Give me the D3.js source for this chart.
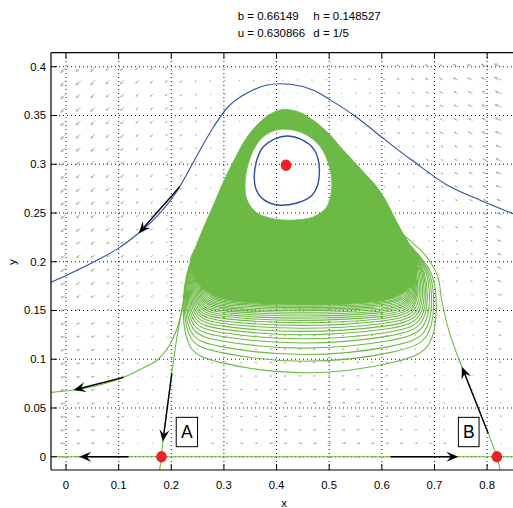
<!DOCTYPE html>
<html><head><meta charset="utf-8">
<script src="https://cdn.jsdelivr.net/npm/d3@7"></script>
<style>body{margin:0;background:#fff}svg{display:block}text{font-family:"Liberation Sans",Arial,Helvetica,sans-serif}</style>
</head><body><svg id="c" width="513" height="508"></svg>
<script>
// ---------------- data ----------------
const xTicks = [0, 0.1, 0.2, 0.3, 0.4, 0.5, 0.6, 0.7, 0.8];
const xTickLabels = ["0", "0.1", "0.2", "0.3", "0.4", "0.5", "0.6", "0.7", "0.8"];
const yTicks = [0, 0.05, 0.1, 0.15, 0.2, 0.25, 0.3, 0.35, 0.4];
const yTickLabels = ["0", "0.05", "0.1", "0.15", "0.2", "0.25", "0.3", "0.35", "0.4"];
const titleLine1 = ["b = 0.66149", "h = 0.148527"];
const titleLine2 = ["u = 0.630866", "d = 1/5"];
const xLabel = "x", yLabel = "y";

// quiver sample grid
const quiverX = [0, 0.0276, 0.0552, 0.0828, 0.1103, 0.1379, 0.1655, 0.1931, 0.2207, 0.2483, 0.2759, 0.3034, 0.331, 0.3586, 0.3862, 0.4138, 0.4414, 0.469, 0.4966, 0.5241, 0.5517, 0.5793, 0.6069, 0.6345, 0.6621, 0.6897, 0.7172, 0.7448, 0.7724, 0.8, 0.8276];
const quiverY = [0, 0.0138, 0.0276, 0.0414, 0.0552, 0.069, 0.0828, 0.0966, 0.1103, 0.1241, 0.1379, 0.1517, 0.1655, 0.1793, 0.1931, 0.2069, 0.2207, 0.2345, 0.2483, 0.2621, 0.2759, 0.2897, 0.3034, 0.3172, 0.331, 0.3448, 0.3586, 0.3724, 0.3862, 0.4];
// direction field read on a coarse grid (x step 0.05, y step 0.05), rows bottom->top
const fieldX = [0, 0.05, 0.1, 0.15, 0.2, 0.25, 0.3, 0.35, 0.4, 0.45, 0.5, 0.55, 0.6, 0.65, 0.7, 0.75, 0.8, 0.85];
const fieldY = [0, 0.05, 0.1, 0.15, 0.2, 0.25, 0.3, 0.35, 0.4];
const fieldU = [
 [-14.9,-10.1,-5.9,-2.1,1.2,3.9,6.2,7.9,9.2,9.9,10.2,9.9,9.2,7.9,6.2,3.9,1.2,-2.1],
 [-14.9,-10.4,-6.4,-2.9,0.2,2.8,4.9,6.5,7.6,8.2,8.4,8.0,7.2,5.9,4.0,1.7,-1.1,-4.4],
 [-14.9,-10.7,-6.9,-3.6,-0.8,1.7,3.6,5.1,6.1,6.6,6.6,6.2,5.2,3.8,1.9,-0.5,-3.3,-6.7],
 [-14.9,-11.0,-7.5,-4.4,-1.7,0.5,2.3,3.6,4.5,4.9,4.9,4.3,3.3,1.8,-0.2,-2.6,-5.6,-9.0],
 [-14.9,-11.3,-8.0,-5.1,-2.7,-0.6,1.0,2.2,3.0,3.3,3.1,2.5,1.3,-0.2,-2.3,-4.8,-7.8,-11.3],
 [-14.9,-11.5,-8.6,-5.9,-3.6,-1.7,-0.3,0.8,1.4,1.6,1.3,0.6,-0.6,-2.3,-4.4,-7.0,-10.1,-13.6],
 [-14.9,-11.8,-9.1,-6.7,-4.6,-2.9,-1.5,-0.6,-0.1,-0.1,-0.5,-1.3,-2.6,-4.3,-6.5,-9.2,-12.3,-16.0],
 [-14.9,-12.1,-9.6,-7.4,-5.5,-4.0,-2.8,-2.0,-1.7,-1.7,-2.2,-3.1,-4.5,-6.3,-8.6,-11.4,-14.6,-18.3],
 [-14.9,-12.4,-10.2,-8.2,-6.5,-5.1,-4.1,-3.5,-3.2,-3.4,-4.0,-5.0,-6.5,-8.4,-10.7,-13.6,-16.8,-20.6]
];
const fieldV = [
 [0,0,0,0,0,0,0,0,0,0,0,0,0,0,0,0,0,0],
 [-1.9,-1.6,-1.3,-1.0,-0.8,-0.6,-0.4,-0.2,0,0.1,0.2,0.3,0.4,0.5,0.6,0.7,0.8,0.9],
 [-3.9,-3.2,-2.6,-2.0,-1.5,-1.1,-0.7,-0.4,-0.1,0.2,0.4,0.7,0.9,1.1,1.3,1.4,1.6,1.8],
 [-5.8,-4.7,-3.8,-3.0,-2.3,-1.7,-1.1,-0.6,-0.1,0.3,0.7,1.0,1.3,1.6,1.9,2.2,2.4,2.6],
 [-7.7,-6.3,-5.1,-4.0,-3.1,-2.2,-1.5,-0.8,-0.2,0.4,0.9,1.4,1.8,2.2,2.6,2.9,3.2,3.5],
 [-9.7,-7.9,-6.4,-5.0,-3.9,-2.8,-1.9,-1.0,-0.2,0.5,1.1,1.7,2.2,2.7,3.2,3.6,4.0,4.4],
 [-11.6,-9.5,-7.7,-6.1,-4.6,-3.4,-2.2,-1.2,-0.3,0.6,1.3,2.0,2.7,3.3,3.8,4.3,4.8,5.3],
 [-13.5,-11.1,-8.9,-7.1,-5.4,-3.9,-2.6,-1.4,-0.3,0.6,1.5,2.4,3.1,3.8,4.5,5.1,5.6,6.2],
 [-15.5,-12.7,-10.2,-8.1,-6.2,-4.5,-3.0,-1.6,-0.4,0.7,1.8,2.7,3.6,4.4,5.1,5.8,6.4,7.0]
];

const equilibria = [[0.1814, 0], [0.8186, 0], [0.418, 0.299]];

const outerOrbit = [[-0.0285,0.179],[0,0.186],[0.05,0.199],[0.1,0.214],[0.137,0.229],[0.17,0.245],[0.2,0.264],[0.217,0.278],[0.25,0.31],[0.28,0.338],[0.31,0.36],[0.344,0.373],[0.38,0.381],[0.426,0.382],[0.47,0.376],[0.502,0.366],[0.55,0.349],[0.597,0.329],[0.63,0.315],[0.66,0.303],[0.723,0.279],[0.787,0.263],[0.86,0.247]];
const innerOrbit = [[0.42,0.329],[0.467,0.318],[0.4815,0.294],[0.467,0.268],[0.407,0.258],[0.369,0.267],[0.3575,0.287],[0.375,0.318]];

const greenOuter = [[0.236,0.2],[0.247,0.216],[0.262,0.236],[0.28,0.258],[0.3,0.283],[0.322,0.307],[0.344,0.328],[0.37,0.344],[0.39,0.352],[0.41,0.356],[0.44,0.354],[0.47,0.345],[0.5,0.331],[0.521,0.318],[0.56,0.295],[0.597,0.272],[0.63,0.239],[0.666,0.2],[0.66,0.178],[0.62,0.163],[0.53,0.157],[0.45,0.156],[0.36,0.158],[0.295,0.163],[0.255,0.175]];
const greenHole = [[0.41,0.336],[0.45,0.332],[0.483,0.318],[0.5,0.298],[0.505,0.277],[0.4955,0.2564],[0.47,0.246],[0.44,0.243],[0.407,0.243],[0.38,0.246],[0.363,0.25],[0.345,0.262],[0.34,0.278],[0.346,0.3],[0.363,0.321],[0.385,0.332]];

const loopLeftX = [0.221,0.223,0.225,0.227,0.229,0.231,0.233,0.235,0.237,0.239,0.241,0.243,0.245,0.247,0.249,0.251,0.253,0.255,0.257,0.259,0.261,0.263,0.265,0.267];
const loopRightX = [0.704,0.699,0.695,0.691,0.687,0.684,0.681,0.678,0.675,0.672,0.669,0.667,0.665,0.663,0.661,0.659,0.657,0.655,0.653,0.651,0.649,0.647,0.645,0.643];
const loopBottomY = [0.0855,0.0974,0.1043,0.111,0.1163,0.1207,0.1248,0.1283,0.1315,0.1345,0.1372,0.1397,0.142,0.1442,0.1462,0.148,0.1497,0.1513,0.1528,0.1542,0.1555,0.1567,0.1578,0.1588];

const sepLeft = [[-0.0285,0.066],[0.0144,0.0684],[0.06,0.073],[0.109,0.0814],[0.15,0.092],[0.173,0.099],[0.195,0.113],[0.21,0.13],[0.222,0.155],[0.23,0.18],[0.238,0.2],[0.26,0.22]];
const sepA = [[0.1777,-0.0136],[0.1814,0],[0.184,0.0154],[0.192,0.05],[0.201,0.0855],[0.21,0.12],[0.22,0.15],[0.228,0.175],[0.237,0.2],[0.26,0.22]];
const sepB = [[0.825,-0.0136],[0.8186,0],[0.802,0.024],[0.778,0.057],[0.752,0.092],[0.728,0.128],[0.714,0.16],[0.706,0.185],[0.685,0.205],[0.64,0.228]];
const axisLine = [[-0.0285,0],[0.86,0]];

const bigArrows = [
  [[0.216,0.277],[0.138,0.229]],
  [[0.109,0.0814],[0.0144,0.0684]],
  [[0.201,0.0855],[0.184,0.0154]],
  [[0.119,0],[0.025,0]],
  [[0.616,0],[0.7454,0]],
  [[0.802,0.024],[0.752,0.0923]]
];
const boxLabels = [
  {text:"A", x0:0.2094, x1:0.2499, y0:0.0103, y1:0.0404},
  {text:"B", x0:0.7454, x1:0.7847, y0:0.0103, y1:0.0404}
];

// ---------------- drawing ----------------
const svg = d3.select("#c");
const x = d3.scaleLinear().domain([-0.0285, 0.86]).range([51, 518.7]);
const y = d3.scaleLinear().domain([-0.0136, 0.4144]).range([470, 52.7]);
const X0 = x.range()[0], X1 = x.range()[1], Y0 = y.range()[0], Y1 = y.range()[1];
const GREEN = "#6cba45", BLUE = "#2c4fa3", RED = "#ec2227";

svg.append("defs").append("clipPath").attr("id","clip")
  .append("rect").attr("x",X0).attr("y",Y1).attr("width",X1-X0).attr("height",Y0-Y1);
const plot = svg.append("g").attr("clip-path","url(#clip)");

// grid
plot.selectAll(".gx").data(xTicks).enter().append("line")
  .attr("x1",d=>x(d)).attr("x2",d=>x(d)).attr("y1",Y0).attr("y2",Y1)
  .attr("stroke","#000").attr("stroke-width",0.9).attr("stroke-dasharray","1 3");
plot.selectAll(".gy").data(yTicks).enter().append("line")
  .attr("y1",d=>y(d)).attr("y2",d=>y(d)).attr("x1",X0).attr("x2",X1)
  .attr("stroke","#000").attr("stroke-width",0.9).attr("stroke-dasharray","1 3");

// quiver
const pxX = x(1)-x(0), pxY = y(0)-y(1);
const vAspect = 0.6;
const qdata = [];
quiverY.forEach(qy => quiverX.forEach(qx => {
  const i = Math.max(0, Math.min(fieldX.length-1, Math.round(qx/0.05)));
  const j = Math.max(0, Math.min(fieldY.length-1, Math.round(qy/0.05)));
  const dx = fieldU[j][i]*pxX, dy = -fieldV[j][i]*pxY*vAspect;
  qdata.push({qx, qy, dx, dy});
}));
const maxMag = d3.max(qdata, d=>Math.hypot(d.dx,d.dy));
const qs = 8/maxMag;
plot.append("g").selectAll("path").data(qdata).enter().append("path")
  .attr("d", d => {
    const sx = x(d.qx), sy = y(d.qy);
    const ux = d.dx*qs, uy = d.dy*qs;
    const tx = sx+ux, ty = sy+uy;
    const a = 0.42, b = 0.38;
    const h1x = tx - a*(ux - b*uy), h1y = ty - a*(uy + b*ux);
    const h2x = tx - a*(ux + b*uy), h2y = ty - a*(uy - b*ux);
    return `M${sx},${sy}L${tx},${ty}M${h1x},${h1y}L${tx},${ty}L${h2x},${h2y}`;
  })
  .attr("fill","none").attr("stroke","#a8a8a8").attr("stroke-width",0.8);

// green region (with hole)
const lineC = d3.line().x(d=>x(d[0])).y(d=>y(d[1])).curve(d3.curveCatmullRomClosed.alpha(0.5));
plot.append("path").attr("d", lineC(greenOuter) + lineC(greenHole))
  .attr("fill",GREEN).attr("fill-rule","evenodd").attr("stroke",GREEN).attr("stroke-width",0.8);

// green loops (basis spline through read control points)
const lineB = d3.line().x(d=>x(d[0])).y(d=>y(d[1])).curve(d3.curveBasis);
const lineO = d3.line().x(d=>x(d[0])).y(d=>y(d[1])).curve(d3.curveCatmullRom.alpha(0.5));
loopBottomY.forEach((yb,k) => {
  const xl = loopLeftX[k], xr = loopRightX[k], xm = (xl+xr)/2 - 0.01;
  const s = Math.max(0.15, (0.162-yb)/0.0765);
  const wy = yb + (0.19-yb)*0.6;
  const pts = [[xl+0.045,0.225],[xl+0.008,0.198],[xl-0.002,wy],[xl+0.01,yb+0.02*s+0.003],[xl+0.05,yb+0.012*s],[xm,yb-0.005*s],[xr-0.055,yb+0.012*s],[xr-0.008,yb+0.024*s+0.003],[xr+0.002,wy],[xr-0.004,0.19],[0.664,0.21],[0.625,0.235]];
  plot.append("path").attr("d",lineB(pts)).attr("fill","none").attr("stroke",GREEN).attr("stroke-width",1.1);
});
[sepLeft, sepA, sepB, axisLine].forEach(s => {
  plot.append("path").attr("d",lineO(s)).attr("fill","none").attr("stroke",GREEN).attr("stroke-width",1.1);
});

// blue orbits
plot.append("path").attr("d",lineO(outerOrbit)).attr("fill","none").attr("stroke",BLUE).attr("stroke-width",1.1);
plot.append("path").attr("d",lineC(innerOrbit)).attr("fill","none").attr("stroke",BLUE).attr("stroke-width",1.4);

// black arrows
bigArrows.forEach(([p0,p1]) => {
  const sx = x(p0[0]), sy = y(p0[1]), tx = x(p1[0]), ty = y(p1[1]);
  const L = Math.hypot(tx-sx, ty-sy), ux = (tx-sx)/L, uy = (ty-sy)/L, nx = -uy, ny = ux;
  const hl = 12, hw = 5, nb = 7.5;
  plot.append("line").attr("x1",sx).attr("y1",sy).attr("x2",tx-ux*nb).attr("y2",ty-uy*nb)
    .attr("stroke","#000").attr("stroke-width",1.4);
  plot.append("path").attr("d",`M${tx},${ty}L${tx-ux*hl+nx*hw},${ty-uy*hl+ny*hw}L${tx-ux*nb},${ty-uy*nb}L${tx-ux*hl-nx*hw},${ty-uy*hl-ny*hw}Z`)
    .attr("fill","#000");
});

// equilibria
plot.selectAll(".eq").data(equilibria).enter().append("ellipse")
  .attr("cx",d=>x(d[0])).attr("cy",d=>y(d[1])).attr("rx",5.3).attr("ry",5.8).attr("fill",RED);

// labelled boxes
boxLabels.forEach(b => {
  plot.append("rect").attr("x",x(b.x0)).attr("y",y(b.y1)).attr("width",x(b.x1)-x(b.x0)).attr("height",y(b.y0)-y(b.y1))
    .attr("fill","#fff").attr("stroke","#000").attr("stroke-width",1);
  plot.append("text").attr("x",(x(b.x0)+x(b.x1))/2).attr("y",(y(b.y0)+y(b.y1))/2+6.3)
    .attr("text-anchor","middle").attr("font-size",17.5).text(b.text);
});

// axes frame
svg.append("line").attr("x1",X0).attr("x2",X1).attr("y1",Y0).attr("y2",Y0).attr("stroke","#000").attr("stroke-width",1.2);
svg.append("line").attr("x1",X0).attr("x2",X1).attr("y1",Y1).attr("y2",Y1).attr("stroke","#000").attr("stroke-width",1.2);
svg.append("line").attr("x1",X0).attr("x2",X0).attr("y1",Y1).attr("y2",Y0).attr("stroke","#000").attr("stroke-width",1.2);
xTicks.forEach((t,i) => {
  svg.append("line").attr("x1",x(t)).attr("x2",x(t)).attr("y1",Y0).attr("y2",Y0-6).attr("stroke","#000");
  svg.append("line").attr("x1",x(t)).attr("x2",x(t)).attr("y1",Y1).attr("y2",Y1+6).attr("stroke","#000");
  svg.append("text").attr("x",x(t)).attr("y",489).attr("text-anchor","middle").attr("font-size",11.3).text(xTickLabels[i]);
});
yTicks.forEach((t,i) => {
  svg.append("line").attr("x1",X0).attr("x2",X0+6).attr("y1",y(t)).attr("y2",y(t)).attr("stroke","#000");
  svg.append("text").attr("x",46).attr("y",y(t)+4).attr("text-anchor","end").attr("font-size",11.3).text(yTickLabels[i]);
});
svg.append("text").attr("x",284).attr("y",507).attr("text-anchor","middle").attr("font-size",11.5).text(xLabel);
svg.append("text").attr("transform","translate(16,262) rotate(-90)").attr("text-anchor","middle").attr("font-size",11.5).text(yLabel);

// title
svg.append("text").attr("x",237.7).attr("y",20).attr("font-size",11.5).text(titleLine1[0]);
svg.append("text").attr("x",313.3).attr("y",20).attr("font-size",11.5).text(titleLine1[1]);
svg.append("text").attr("x",237.7).attr("y",37).attr("font-size",11.5).text(titleLine2[0]);
svg.append("text").attr("x",313.3).attr("y",37).attr("font-size",11.5).text(titleLine2[1]);
</script></body></html>
